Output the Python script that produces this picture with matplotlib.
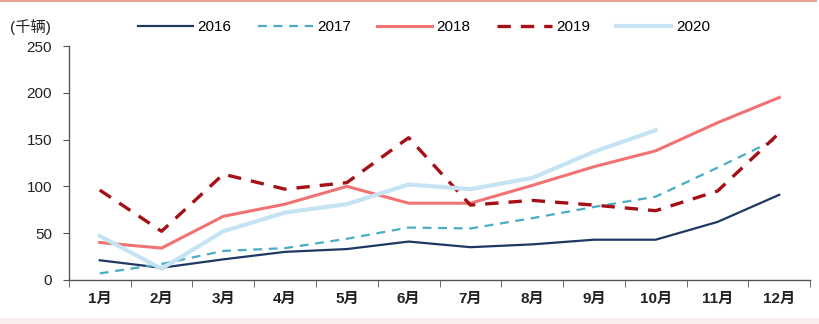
import matplotlib
matplotlib.use("Agg")
import matplotlib.pyplot as plt
from matplotlib.lines import Line2D
from matplotlib.patches import Rectangle

plt.rcParams['font.family'] = ['Liberation Sans', 'Noto Sans CJK SC', 'DejaVu Sans']

months = ['1月', '2月', '3月', '4月', '5月', '6月', '7月', '8月', '9月', '10月', '11月', '12月']
s2016 = [21, 13, 22, 30, 33, 41, 35, 38, 43, 43, 62, 91]
s2017 = [7, 17, 31, 34, 44, 56, 55, 66, 78, 89, 120, 152]
s2018 = [40, 34, 68, 81, 100, 82, 82, 101, 121, 138, 168, 195]
s2019 = [96, 52, 113, 97, 104, 152, 80, 85, 80, 74, 95, 157]
s2020 = [47, 12, 52, 72, 81, 102, 97, 109, 137, 160]
yticks = [0, 50, 100, 150, 200, 250]

fig = plt.figure(figsize=(8.2, 3.24), dpi=100)
ax = fig.add_axes([0.084, 0.136, 0.904, 0.722])

x = list(range(len(months)))
ax.plot(x, s2016, color='#1f3864', lw=1.6, label='2016')
ax.plot(x, s2017, color='#4bacc6', lw=1.6, ls=(0, (4, 3)), label='2017')
ax.plot(x, s2018, color='#f07272', lw=2.2, label='2018')
ax.plot(x, s2019, color='#a50f15', lw=2.4, ls=(0, (4, 3)), label='2019')
ax.plot(x[:len(s2020)], s2020, color='#c5e3f2', lw=3.0, label='2020')

ax.set_xlim(-0.5, 11.5)
ax.set_ylim(0, 250)
ax.set_yticks(yticks)
ax.set_yticklabels([str(v) for v in yticks], fontsize=11, color='#222222')
ax.set_xticks(x)
ax.set_xticklabels(months, fontsize=11, color='#222222', fontweight='bold')
ax.set_xticks([i - 0.5 for i in range(13)], minor=True)
ax.tick_params(axis='x', which='major', length=0, pad=9)
ax.tick_params(axis='x', which='minor', length=5, color='#555555', direction='out')
ax.tick_params(axis='y', length=4, color='#555555', pad=8)
for s in ['top', 'right']:
    ax.spines[s].set_visible(False)
for s in ['left', 'bottom']:
    ax.spines[s].set_color('#555555')
    ax.spines[s].set_linewidth(1.0)

fig.legend(loc='center', bbox_to_anchor=(0.517, 0.917), ncol=5, frameon=False,
           fontsize=11, handlelength=3.6, columnspacing=1.7, handletextpad=0.3)
fig.text(0.012, 0.917, '(千辆)', fontsize=11, va='center', ha='left', color='#222222')

fig.add_artist(Line2D([0, 0.995], [0.996, 0.996], transform=fig.transFigure, color='#e8a090', lw=1.5))
fig.add_artist(Rectangle((0, 0), 1, 0.018, transform=fig.transFigure, color='#fbeeee', lw=0))

fig.savefig('out.png', dpi=100)
